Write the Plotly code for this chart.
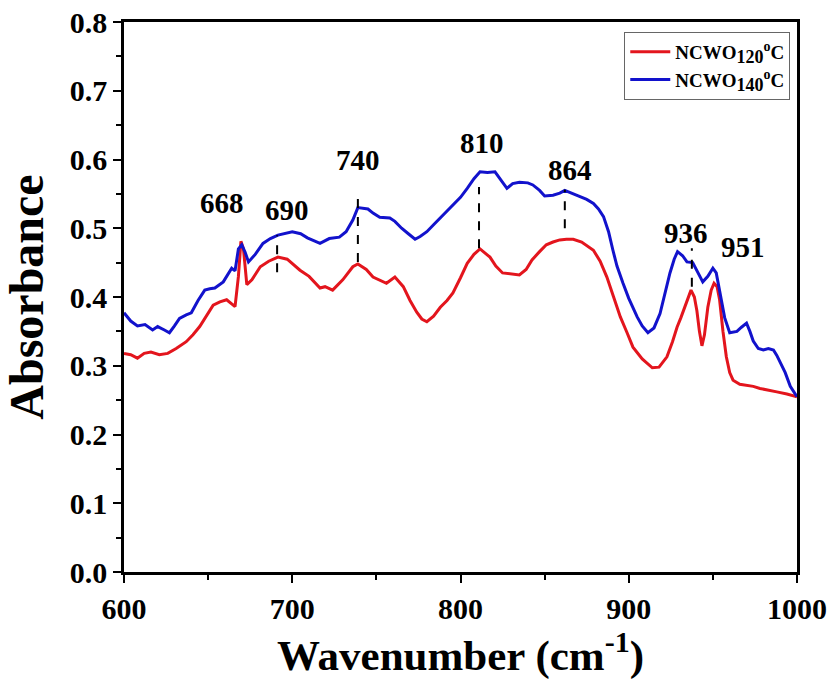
import plotly.graph_objects as go

# ---- data ----
red_x = [600, 604, 608, 612, 616, 621, 626, 631, 637, 641, 645, 649, 653, 657, 661, 664, 666, 668, 669.5, 671, 673, 676, 681, 686, 691.5, 697, 704.6, 710, 716.5, 719.5, 724, 730, 736, 739, 744, 748, 752, 756, 761, 766, 770, 774, 777, 780, 784, 788, 792, 795.5, 800, 804, 808, 811.6, 817.5, 821, 825, 830, 835, 839, 842.5, 847, 851, 855, 859, 863, 867, 872, 879, 883, 887, 891, 895, 899, 902.5, 908, 914, 918, 922.7, 926, 928.7, 931, 933.4, 935, 937, 939, 940.5, 942, 943.5, 945, 947, 949, 950.7, 952.5, 954, 956, 958, 960, 962, 966, 970, 974, 978, 983, 988, 994, 1000]
red_y = [0.318, 0.316, 0.311, 0.318, 0.320, 0.316, 0.318, 0.325, 0.335, 0.345, 0.357, 0.372, 0.388, 0.393, 0.396, 0.390, 0.386, 0.430, 0.481, 0.470, 0.418, 0.425, 0.444, 0.452, 0.458, 0.455, 0.439, 0.430, 0.413, 0.415, 0.410, 0.425, 0.444, 0.448, 0.440, 0.429, 0.425, 0.420, 0.429, 0.415, 0.395, 0.378, 0.368, 0.364, 0.372, 0.385, 0.395, 0.406, 0.428, 0.449, 0.462, 0.470, 0.458, 0.445, 0.435, 0.433, 0.432, 0.440, 0.454, 0.466, 0.476, 0.480, 0.483, 0.484, 0.484, 0.480, 0.468, 0.452, 0.429, 0.400, 0.371, 0.348, 0.327, 0.310, 0.297, 0.298, 0.313, 0.335, 0.356, 0.370, 0.385, 0.395, 0.410, 0.400, 0.380, 0.350, 0.329, 0.345, 0.385, 0.410, 0.420, 0.415, 0.396, 0.350, 0.313, 0.290, 0.279, 0.273, 0.272, 0.270, 0.267, 0.264, 0.262, 0.259, 0.255]

blue_x = [600, 604, 608, 612.5, 617, 620, 624, 627, 630, 633, 637, 640, 644, 648, 651, 654, 659, 664, 666, 668, 670, 672, 674, 678, 682.6, 687, 691.5, 696, 700, 705, 709, 716.5, 722, 728, 732, 736, 739, 745, 748, 752, 758, 761, 765, 769, 773, 776, 780, 784, 788, 792, 795.5, 800, 804, 808, 811.6, 816, 820.5, 824, 827.6, 831, 835, 840, 843, 847, 850, 855, 859, 862, 867, 871, 875, 879, 882, 885, 888, 890.6, 893, 896.6, 900, 905, 908, 911.4, 915, 918.6, 922, 924.5, 927, 929, 932, 934.6, 938, 941, 944, 947, 950, 952, 954, 957, 960, 964.3, 967, 970, 972, 974, 977, 980, 983, 986, 988, 990, 993, 996, 1000]
blue_y = [0.377, 0.365, 0.358, 0.360, 0.352, 0.357, 0.352, 0.348, 0.358, 0.369, 0.374, 0.377, 0.395, 0.410, 0.412, 0.413, 0.422, 0.442, 0.438, 0.470, 0.476, 0.465, 0.451, 0.462, 0.478, 0.485, 0.490, 0.493, 0.495, 0.492, 0.486, 0.478, 0.485, 0.487, 0.495, 0.512, 0.530, 0.528, 0.522, 0.516, 0.515, 0.510, 0.500, 0.492, 0.484, 0.488, 0.495, 0.505, 0.515, 0.524, 0.534, 0.545, 0.558, 0.572, 0.582, 0.581, 0.582, 0.570, 0.558, 0.565, 0.567, 0.566, 0.563, 0.555, 0.547, 0.548, 0.551, 0.555, 0.550, 0.546, 0.542, 0.536, 0.528, 0.517, 0.495, 0.468, 0.445, 0.420, 0.398, 0.371, 0.358, 0.348, 0.355, 0.376, 0.410, 0.435, 0.455, 0.466, 0.460, 0.451, 0.450, 0.435, 0.422, 0.430, 0.442, 0.435, 0.410, 0.370, 0.348, 0.350, 0.356, 0.362, 0.350, 0.336, 0.325, 0.323, 0.325, 0.323, 0.315, 0.304, 0.290, 0.270, 0.255]

series_names = ["NCWO<sub><span style='font-size:18px'>120</span></sub><sup><span style='font-size:14px'>o</span></sup>C",
                "NCWO<sub><span style='font-size:18px'>140</span></sub><sup><span style='font-size:14px'>o</span></sup>C"]

peak_labels = ["668", "690", "740", "810", "864", "936", "951"]
label_x = [658, 697, 739, 813, 865, 934, 968]
label_y = [0.537, 0.527, 0.600, 0.624, 0.585, 0.493, 0.473]

dash_x = [691, 739, 811, 862, 937.5]
dash_y0 = [0.436, 0.451, 0.471, 0.500, 0.415]
dash_y1 = [0.490, 0.544, 0.560, 0.556, 0.471]

FONT = "Liberation Serif"

fig = go.Figure()
fig.add_trace(go.Scatter(x=red_x, y=red_y, mode="lines", name=series_names[0],
                         line=dict(color="#e3151d", width=3)))
fig.add_trace(go.Scatter(x=blue_x, y=blue_y, mode="lines", name=series_names[1],
                         line=dict(color="#1212cc", width=3)))

for xv, y0, y1 in zip(dash_x, dash_y0, dash_y1):
    fig.add_shape(type="line", xref="x", yref="y", x0=xv, x1=xv, y0=y0, y1=y1,
                  line=dict(color="black", width=2, dash="dash"))

for t, xv, yv in zip(peak_labels, label_x, label_y):
    fig.add_annotation(x=xv, y=yv, text="<b>%s</b>" % t, showarrow=False,
                       xref="x", yref="y", font=dict(family=FONT, size=29, color="black"))

fig.update_layout(
    width=832, height=681,
    margin=dict(l=124, r=35, t=22, b=109),
    paper_bgcolor="white", plot_bgcolor="white",
    font=dict(family=FONT, color="black"),
    showlegend=True,
    legend=dict(x=0.99, y=0.982, xanchor="right", yanchor="top",
                bordercolor="#666666", borderwidth=1, bgcolor="white",
                font=dict(family=FONT, size=19, color="black", weight="bold"),
                itemwidth=40, tracegroupgap=2),
)
fig.update_xaxes(
    range=[600, 1000], tickvals=[600, 700, 800, 900, 1000], automargin=False,
    ticks="outside", ticklen=8, tickwidth=2, tickcolor="black",
    minor=dict(tickvals=[650, 750, 850, 950], ticks="outside", ticklen=5, tickwidth=2, tickcolor="black"),
    showline=True, linewidth=2.5, linecolor="black", mirror=True,
    showgrid=False, zeroline=False,
    tickfont=dict(family=FONT, size=30, color="black", weight="bold"),
    title=dict(text="<b>Wavenumber (cm<sup>-1</sup>)</b>", font=dict(family=FONT, size=43, color="black")),
)
fig.update_yaxes(
    range=[0, 0.8], tickvals=[0, 0.1, 0.2, 0.3, 0.4, 0.5, 0.6, 0.7, 0.8], automargin=False,
    ticktext=["0.0", "0.1", "0.2", "0.3", "0.4", "0.5", "0.6", "0.7", "0.8"],
    ticks="outside", ticklen=8, tickwidth=2, tickcolor="black",
    minor=dict(tickvals=[0.05, 0.15, 0.25, 0.35, 0.45, 0.55, 0.65, 0.75], ticks="outside", ticklen=5, tickwidth=2, tickcolor="black"),
    showline=True, linewidth=2.5, linecolor="black", mirror=True,
    showgrid=False, zeroline=False,
    tickfont=dict(family=FONT, size=30, color="black", weight="bold"),
    title=dict(text="<b>Absorbance</b>", font=dict(family=FONT, size=48, color="black")),
)

fig.write_html("out.html")
